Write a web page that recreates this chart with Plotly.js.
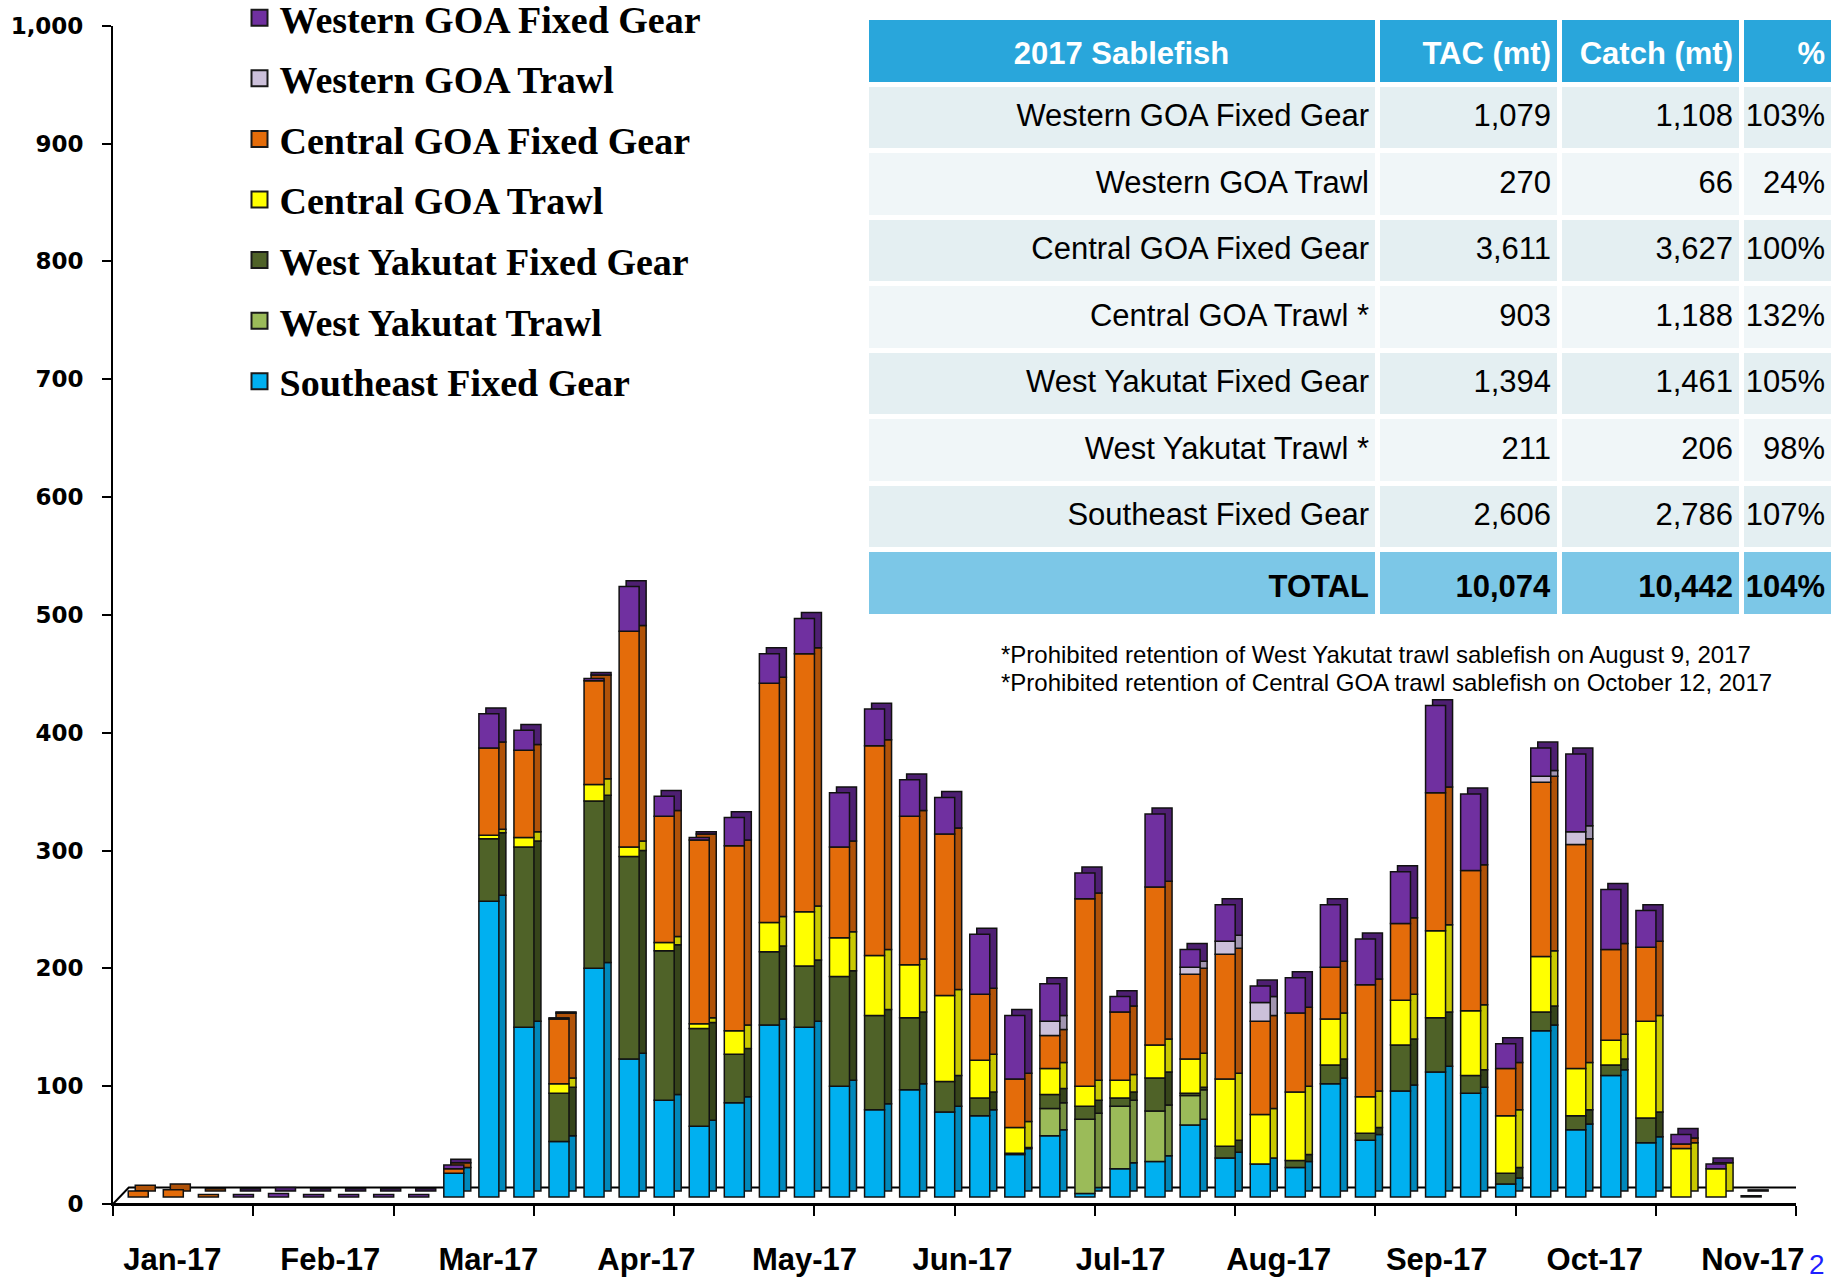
<!DOCTYPE html>
<html>
<head>
<meta charset="utf-8">
<script src="https://cdn.plot.ly/plotly-3.0.1.min.js"></script>
<style>
html,body{margin:0;padding:0;background:#ffffff;overflow:hidden;}
#chart{width:1833px;height:1279px;}
</style>
</head>
<body>
<div id="chart"></div>
<script>
// ---------------- DATA ----------------
const weeks = [1,2,3,4,5,6,7,8,9,10,11,12,13,14,15,16,17,18,19,20,21,22,23,24,25,26,27,28,29,30,31,32,33,34,35,36,37,38,39,40,41,42,43,44,45,46,47];
const monthLabels = ['Jan-17','Feb-17','Mar-17','Apr-17','May-17','Jun-17','Jul-17','Aug-17','Sep-17','Oct-17','Nov-17'];

const southeastFixedGear = [0,0,0,0,0,0,0,0,0,20, 251,144,47,194,117,82,60,80,146,144, 94,74,91,72,69,36,52,3,24,30, 61,33,28,25,96,48,90,106,88,11, 141,57,103,46,0,0,0];
const westYakutatTrawl   = [0,0,0,0,0,0,0,0,0,0, 0,0,0,0,0,0,0,0,0,0, 0,0,0,0,0,0,23,63,53,43, 25,0,0,0,0,0,0,0,0,0, 0,0,0,0,0,0,0];
const westYakutatFixed   = [0,0,0,0,0,0,0,0,0,0, 53,153,41,142,172,127,83,41,62,52, 93,80,61,26,15,1,12,11,7,28, 2,10,0,6,16,6,39,46,15,9, 16,12,9,21,0,0,0];
const centralGoaTrawl    = [0,0,0,0,0,0,0,0,0,0, 3,8,8,14,8,7,4,20,25,46, 33,51,45,73,32,22,22,17,15,28, 29,57,42,58,39,31,38,74,55,49, 47,40,21,82,41,24,0];
const centralGoaFixed    = [5,6,2,0,0,0,0,0,0,4, 74,74,55,88,183,107,156,157,203,219, 77,178,126,137,56,41,28,159,58,134, 72,106,79,67,44,95,65,117,119,40, 148,190,77,63,4,0,0];
const westernGoaTrawl    = [0,0,0,0,0,0,0,0,0,0, 0,0,0,0,0,0,0,0,0,0, 0,0,0,0,0,0,12,0,0,0, 6,11,16,0,0,0,0,0,0,0, 5,11,0,0,0,0,0];
const westernGoaFixed    = [0,0,0,2,3,2,2,2,2,3, 29,17,1,2,38,17,2,24,25,30, 46,31,31,31,51,54,32,22,13,62, 15,31,14,30,53,39,44,74,65,21, 24,66,51,31,8,4,1];

// table
const tableRows   = ['Western GOA Fixed Gear','Western GOA Trawl','Central GOA Fixed Gear','Central GOA Trawl *','West Yakutat Fixed Gear','West Yakutat Trawl *','Southeast Fixed Gear','TOTAL'];
const tableTac    = ['1,079','270','3,611','903','1,394','211','2,606','10,074'];
const tableCatch  = ['1,108','66','3,627','1,188','1,461','206','2,786','10,442'];
const tablePct    = ['103%','24%','100%','132%','105%','98%','107%','104%'];
const tableHeader = ['2017 Sablefish','TAC (mt)','Catch (mt)','%'];

const footnotes = ['*Prohibited retention of West Yakutat trawl sablefish on August 9, 2017',
                   '*Prohibited retention of Central GOA trawl sablefish on October 12, 2017'];

// ---------------- STYLE / LAYOUT ----------------
const W = 1833, H = 1279;
const FLOOR = 6;        // bars stand slightly above the front floor edge
const DX = 0.2, DY = 5; // fake 3D depth
const BAR_W = 0.57;
const XMIN = -0.72, XMAX = 47.28;

const series = [
  {name:'Southeast Fixed Gear',   v:southeastFixedGear, c:'#00B0F0', d:'#0088BB'},
  {name:'West Yakutat Trawl',     v:westYakutatTrawl,   c:'#9BBB59', d:'#76913F'},
  {name:'West Yakutat Fixed Gear',v:westYakutatFixed,   c:'#4F6228', d:'#36441A'},
  {name:'Central GOA Trawl',      v:centralGoaTrawl,    c:'#FFFF00', d:'#C9C900'},
  {name:'Central GOA Fixed Gear', v:centralGoaFixed,    c:'#E46C0A', d:'#B05208'},
  {name:'Western GOA Trawl',      v:westernGoaTrawl,    c:'#CCC0DA', d:'#A195B0'},
  {name:'Western GOA Fixed Gear', v:westernGoaFixed,    c:'#7030A0', d:'#4E1F72'}
];

const xIdx = weeks.map(w => w - 1);
const cum = weeks.map(() => 0);
const backTraces = [], frontTraces = [];
series.forEach(s => {
  const base = cum.slice();
  const vals = s.v.map(v => v > 0 ? v : null);
  backTraces.push({
    type:'bar', x:xIdx.map(x => x + DX), y:vals, base:base.map(b => b + FLOOR + DY),
    width:BAR_W, marker:{color:s.d, line:{color:'#111', width:1.5}},
    showlegend:false, hoverinfo:'skip'
  });
  frontTraces.push({
    type:'bar', x:xIdx, y:vals, base:base.map(b => b + FLOOR),
    width:BAR_W, marker:{color:s.c, line:{color:'#111', width:1.5}},
    showlegend:false, name:s.name, hoverinfo:'skip'
  });
  s.v.forEach((v,i) => { cum[i] += v; });
});

// legend entries (top to bottom)
const legendTraces = series.slice().reverse().map((s,k) => ({
  type:'scatter', mode:'markers', x:[null], y:[null], name:s.name,
  legendgroup:'g'+k,
  marker:{symbol:'square', size:16, color:s.c, line:{color:'#1a1a1a', width:2}},
  hoverinfo:'skip'
}));

const rowFill = ['#E4EFF2','#F0F6F8','#E4EFF2','#F0F6F8','#E4EFF2','#F0F6F8','#E4EFF2','#7CC7E7'];
const bold = (arr) => arr.map((t,i) => i === arr.length - 1 ? '<b>' + t + '</b>' : t);
const blank = (arr) => arr.map(() => '');

const TABLE_TOP = 17, TEXT_SHIFT = 11;
const tableFont = {family:'Liberation Sans, Arial, sans-serif', size:31};
const colW = [511,182,182,92];

// background cells of the table
const tableFillTrace = {
  type:'table',
  domain:{x:[866/W, 1], y:[1 - 660/H, 1 - TABLE_TOP/H]},
  columnwidth:colW,
  header:{values:blank(tableHeader), fill:{color:'#29A6DB'}, line:{color:'#ffffff', width:5},
          font:Object.assign({color:'#ffffff'}, tableFont), height:67},
  cells:{values:[blank(tableRows), blank(tableTac), blank(tableCatch), blank(tablePct)],
         fill:{color:[rowFill,rowFill,rowFill,rowFill]}, line:{color:'#ffffff', width:5},
         font:Object.assign({color:'#000000'}, tableFont), height:66.5}
};
// text of the table (vertically centred in the cells)
const tableTextTrace = {
  type:'table',
  domain:{x:[866/W, 1], y:[1 - (660 + TEXT_SHIFT)/H, 1 - (TABLE_TOP + TEXT_SHIFT)/H]},
  columnwidth:colW,
  header:{
    values:tableHeader.map(t => '<b>' + t + '</b>'),
    align:['center','right','right','right'],
    fill:{color:'rgba(0,0,0,0)'}, line:{color:'rgba(0,0,0,0)', width:5},
    font:Object.assign({color:'#ffffff'}, tableFont), height:67
  },
  cells:{
    values:[bold(tableRows), bold(tableTac), bold(tableCatch), bold(tablePct)],
    align:['right','right','right','right'],
    fill:{color:'rgba(0,0,0,0)'}, line:{color:'rgba(0,0,0,0)', width:5},
    font:Object.assign({color:'#000000'}, tableFont), height:66.5
  }
};

const tickPos = Array.from({length:13}, (_,k) => XMIN + 4*k);
const labelPos = monthLabels.map((_,k) => 0.97 + 4.508*k);

const layout = {
  width:W, height:H,
  margin:{l:0, r:0, t:0, b:0, autoexpand:false},
  paper_bgcolor:'#ffffff', plot_bgcolor:'rgba(0,0,0,0)',
  barmode:'overlay',
  showlegend:true,
  legend:{
    x:239.5/W, xanchor:'left', y:1 + 13.5/H, yanchor:'top',
    font:{family:'Liberation Serif, Times New Roman, serif', size:38, color:'#000000', weight:'bold'},
    tracegroupgap:8.2, bgcolor:'rgba(0,0,0,0)', itemclick:false, itemdoubleclick:false
  },
  xaxis:{
    domain:[113/W, 1796/W], range:[XMIN, XMAX], fixedrange:true,
    showgrid:false, zeroline:false, showline:true, linecolor:'#000', linewidth:2,
    ticks:'outside', ticklen:10, tickwidth:2, tickcolor:'#000',
    tickmode:'array', tickvals:tickPos, showticklabels:false
  },
  xaxis2:{
    overlaying:'x', anchor:'y', range:[XMIN, XMAX], fixedrange:true,
    showgrid:false, zeroline:false, showline:false, ticks:'',
    tickmode:'array', tickvals:labelPos, ticktext:monthLabels,
    ticklabelstandoff:34,
    tickfont:{family:'Liberation Sans, Arial, sans-serif', size:31, color:'#000', weight:'bold'}
  },
  yaxis:{
    domain:[1 - 1204/H, 1 - 25.7/H], range:[0, 1000], fixedrange:true,
    showgrid:false, zeroline:false, showline:true, linecolor:'#000', linewidth:2,
    ticks:'outside', ticklen:9, tickwidth:2, tickcolor:'#000',
    dtick:100, tick0:0, tickformat:',d', ticklabelstandoff:14,
    tickfont:{family:'DejaVu Sans, Verdana, sans-serif', size:23, color:'#000', weight:'bold'}
  },
  shapes:[{
    type:'path', xref:'x', yref:'y', layer:'below',
    path:`M ${XMIN},0 L ${XMAX},0 L ${XMAX+0.62},14 L ${XMIN+0.45},14 Z`,
    fillcolor:'#ffffff', line:{color:'#000', width:2}
  }],
  annotations:[
    {xref:'paper', yref:'paper', x:999/W, y:1 - 654.6/H, xanchor:'left', yanchor:'middle',
     text:footnotes[0], align:'left', showarrow:false,
     font:{family:'Liberation Sans, Arial, sans-serif', size:24, color:'#000'}},
    {xref:'paper', yref:'paper', x:999/W, y:1 - 682.7/H, xanchor:'left', yanchor:'middle',
     text:footnotes[1], align:'left', showarrow:false,
     font:{family:'Liberation Sans, Arial, sans-serif', size:24, color:'#000'}},
    {xref:'paper', yref:'paper', x:1 - 6/W, y:1 - 1264/H, xanchor:'right', yanchor:'middle',
     text:'2', showarrow:false,
     font:{family:'Liberation Sans, Arial, sans-serif', size:28, color:'#1F1FFF'}}
  ]
};

// dummy trace on xaxis2 so the overlaying axis is drawn
const axisCarrier = {type:'scatter', mode:'markers', x:[null], y:[null], xaxis:'x2', yaxis:'y', showlegend:false, hoverinfo:'skip'};

Plotly.newPlot('chart', [...backTraces, ...frontTraces, ...legendTraces, axisCarrier, tableFillTrace, tableTextTrace], layout, {staticPlot:true, displayModeBar:false});
</script>
</body>
</html>
